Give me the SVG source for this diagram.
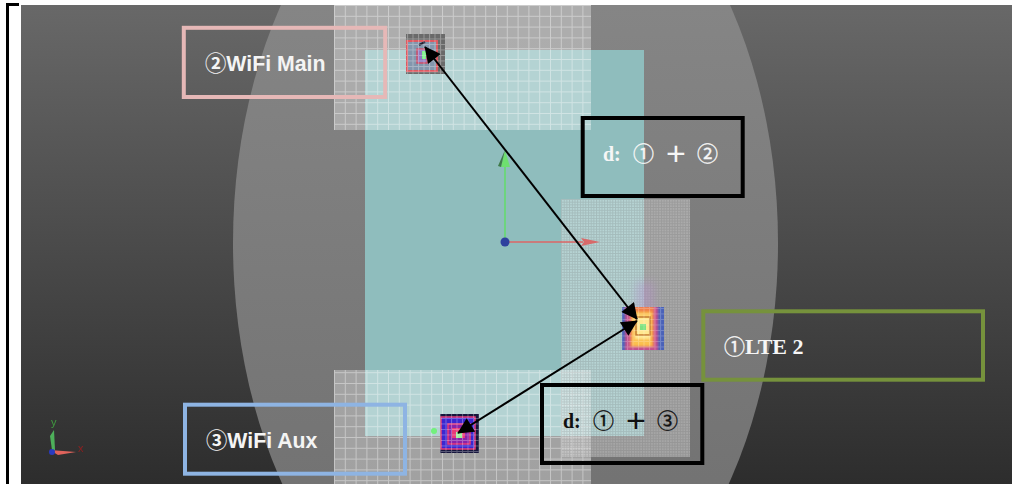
<svg xmlns="http://www.w3.org/2000/svg" width="1012" height="484" viewBox="0 0 1012 484">
<style>
.box{fill:none;stroke-width:4}
.b{font-family:"Liberation Serif","Noto Sans CJK SC",serif;font-weight:700}
.s{font-family:"Liberation Sans","Noto Sans CJK SC",sans-serif;font-weight:700;font-size:21.300px;fill:#f4f4f4}
.c{font-family:"Noto Sans CJK SC",sans-serif;font-size:21px;font-weight:400;stroke-width:.35}
.p{font-family:"Liberation Sans",sans-serif;font-size:34px;font-weight:400;text-anchor:middle}
.w{fill:#f6f6f6}.k{fill:#111}
.c.w{stroke:#f6f6f6}.c.k{stroke:#111}
.ar{stroke:#000;stroke-width:2;fill:none;marker-start:url(#ah);marker-end:url(#ah)}
</style>
<defs>
<linearGradient id="bg" x1="0" y1="0" x2="0" y2="1"><stop offset="0" stop-color="#686868"/><stop offset="1" stop-color="#2d2d2d"/></linearGradient>
<linearGradient id="el" x1="0" y1="0" x2="0" y2="1"><stop offset="0" stop-color="#8c8c8c"/><stop offset="1" stop-color="#6c6c6c"/></linearGradient>
<pattern id="coarse" width="10.8" height="10.8" patternUnits="userSpaceOnUse" x="334" y="5">
<rect width="10.8" height="10.8" fill="#fff" fill-opacity=".33"/>
<path d="M.5 0V10.8M0 .5H10.8" stroke="#fff" stroke-opacity=".38" stroke-width="1" fill="none"/>
</pattern>
<pattern id="fine" width="2.7" height="2.7" patternUnits="userSpaceOnUse" x="561" y="199">
<rect width="2.7" height="2.7" fill="#fff" fill-opacity=".36"/>
<path d="M.5 0V2.7M0 .5H2.7" stroke="#555" stroke-opacity=".2" stroke-width="1" fill="none"/>
</pattern>
<pattern id="cell" width="5.5" height="5.5" patternUnits="userSpaceOnUse">
<path d="M.5 0V5.5M0 .5H5.5" stroke="#fff" stroke-opacity=".5" stroke-width="1" fill="none"/>
</pattern>
<marker id="ah" viewBox="0 0 10 10" refX="9.5" refY="5" markerWidth="8.5" markerHeight="8" markerUnits="strokeWidth" orient="auto-start-reverse"><path d="M0 0L10 5L0 10Z" fill="#000"/></marker>
<filter id="soft" x="-30%" y="-30%" width="160%" height="160%"><feGaussianBlur stdDeviation=".6"/></filter>
<filter id="soft2" x="-30%" y="-30%" width="160%" height="160%"><feGaussianBlur stdDeviation="1.300"/></filter>
<filter id="glow" x="-50%" y="-50%" width="200%" height="200%"><feGaussianBlur stdDeviation="5"/></filter>
<clipPath id="view"><rect x="21" y="5" width="991" height="479"/></clipPath>
<clipPath id="lteclip"><rect x="622" y="307" width="42" height="43"/></clipPath>
</defs>

<rect width="1012" height="484" fill="#fff"/>
<g id="scene" clip-path="url(#view)">
<rect x="21" y="5" width="991" height="479" fill="url(#bg)"/>
<ellipse cx="505.500" cy="243" rx="272.500" ry="420" fill="url(#el)"/>
<rect x="365" y="50" width="279" height="386" fill="#8fbdbd"/>
<rect x="334" y="5" width="257" height="125" fill="url(#coarse)"/>
<rect x="334" y="370" width="257" height="114" fill="url(#coarse)"/>
<rect x="561" y="199" width="129" height="258" fill="url(#fine)"/>
</g>

<g id="origin-axes" filter="url(#soft)">
<path d="M505 242V165" stroke="#62dc6a" stroke-width="1.500"/>
<path d="M505 150L510 167L501 167Z" fill="#6ee06e"/>
<path d="M505 150L501 167L498 166Z" fill="#3e7a48"/>
<path d="M505 242H583" stroke="#d66" stroke-width="1.500"/>
<path d="M600 242L581 238L584 242L581 246Z" fill="#d86a6a"/>
<circle cx="505" cy="242" r="4.500" fill="#2f3f9e"/>
</g>

<g id="small-axes" filter="url(#soft)">
<path d="M52 450L50 436L54 430L55 450Z" fill="#4eb05a"/>
<path d="M50 450L76 452L58 455Z" fill="#e0645c"/>
<circle cx="52" cy="452" r="3" fill="#2a3ac0"/>
<text x="51" y="426" font-family="Liberation Sans,sans-serif" font-size="11" fill="#3f9a3f">y</text>
<text x="78" y="452" font-family="Liberation Sans,sans-serif" font-size="11" fill="#8c2020">x</text>
</g>

<g id="heat-main" filter="url(#soft)">
<rect x="406" y="34" width="39" height="40" fill="#6a6a6a"/>
<rect x="407" y="41" width="30" height="30" fill="#8396ad" stroke="#dc5a62" stroke-width="2"/>
<rect x="417" y="49" width="10" height="14" fill="#8f78c0" stroke="#d0506a" stroke-width="1.500"/>
<rect x="422" y="51" width="4" height="8" fill="#7af08a"/>
<path d="M419 45L425 42" stroke="#223" stroke-width="2"/>
<rect x="406" y="34" width="39" height="40" fill="url(#cell)" opacity=".6"/>
</g>

<g id="heat-lte">
<rect x="636" y="282" width="18" height="36" fill="#b78fd0" opacity=".4" filter="url(#glow)"/>
<rect x="622" y="307" width="42" height="43" fill="#4a62b8"/>
<g clip-path="url(#lteclip)"><g filter="url(#soft2)">
<rect x="625" y="305" width="33" height="47" fill="#c2508e"/>
<rect x="630" y="306" width="24" height="41" fill="#f0804a"/>
<rect x="632" y="312" width="20" height="34" fill="#fbc050"/>
<rect x="635" y="316" width="15" height="23" fill="#ffe890"/>
</g></g>
<g filter="url(#soft)">
<rect x="636" y="317" width="14" height="18" fill="none" stroke="#c47a2c" stroke-width="1.500"/>
<rect x="640" y="324" width="6" height="6" fill="#7fe27f"/>
<rect x="622" y="307" width="42" height="43" fill="url(#cell)" opacity=".45"/>
</g>
</g>

<g id="heat-aux" filter="url(#soft)">
<circle cx="434" cy="431" r="3" fill="#72f07c"/>
<rect x="440" y="414" width="39" height="39" fill="#14143c"/>
<rect x="441" y="417" width="34" height="32" fill="#3a26d0" stroke="#e83a78" stroke-width="1.500"/>
<rect x="448" y="424" width="22" height="20" fill="#8a20a8" stroke="#e83a78" stroke-width="1.500"/>
<rect x="452" y="428" width="13" height="10" fill="#e83a78"/>
<rect x="456" y="432" width="6" height="6" fill="#9cf09c"/>
<rect x="440" y="414" width="39" height="39" fill="url(#cell)" opacity=".6"/>
</g>

<path id="frame" d="M7.500 484V4.500H19" fill="none" stroke="#000" stroke-width="3"/>

<g id="connectors">
<path class="ar" d="M425 47L637 319"/>
<path class="ar" d="M637 321L458 433"/>
</g>

<g id="node-wifi-main">
<rect class="box" x="183.800" y="27.800" width="201.400" height="69.200" stroke="#e6b8b7"/>
<text class="s" x="205" y="71">②WiFi Main</text>
</g>
<g id="node-d12">
<rect class="box" x="582.700" y="118" width="160" height="78" stroke="#000"/>
<text class="w b" font-size="20" x="603" y="161">d:</text>
<text class="w c" x="633" y="161">①</text>
<text class="w p" x="676" y="165">+</text>
<text class="w c" x="697" y="161">②</text>
</g>
<g id="node-lte">
<rect class="box" x="703.300" y="311.300" width="279.700" height="68.400" stroke="#76923c"/>
<text class="w c" x="724" y="354">①</text>
<text class="w b" font-size="22" x="745" y="354">LTE 2</text>
</g>
<g id="node-d13">
<rect class="box" x="542" y="385" width="160.300" height="78" stroke="#000"/>
<text class="k b" font-size="20" x="563" y="428">d:</text>
<text class="k c" x="593" y="428">①</text>
<text class="k p" x="636" y="432">+</text>
<text class="k c" x="657" y="428">③</text>
</g>
<g id="node-wifi-aux">
<rect class="box" x="185" y="404.700" width="220" height="69" stroke="#8eb4e3"/>
<text class="s" x="206" y="448">③WiFi Aux</text>
</g>
</svg>
